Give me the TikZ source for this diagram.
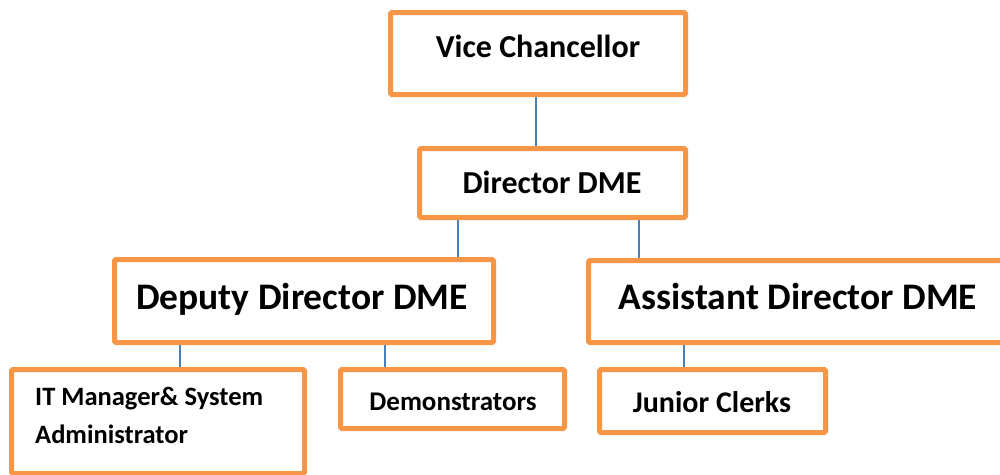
\documentclass[tikz,border=0pt]{standalone}
\usepackage{fontspec}
\setmainfont{Carlito}
\usetikzlibrary{backgrounds}
\definecolor{boxorange}{HTML}{F79646}
\definecolor{linkblue}{HTML}{4A7EBB}
\tikzset{
  orgbox/.style={draw=boxorange, line width=5pt, fill=white, rounded corners=1.5pt,
    inner sep=0pt, minimum width=#1},
  boxtext/.style={anchor=base, inner sep=0pt, font=\bfseries\fontsize{#1}{#1}\selectfont},
  link/.style={draw=linkblue, line width=1.4pt}
}
\begin{document}
\begin{tikzpicture}[x=1pt,y=-1pt]
\useasboundingbox (0,0) rectangle (1000,474);
\clip (0,0) rectangle (1000,474);

% boxes
\node[orgbox=295pt, minimum height=82pt] (vc)   at (538,53.5)  {};
\node[orgbox=266pt, minimum height=69pt] (dir)  at (552.5,183) {};
\node[orgbox=379pt, minimum height=83pt] (dep)  at (304,301)   {};
\node[orgbox=419pt, minimum height=82pt] (asst) at (798,301.5) {};
\node[orgbox=293pt, minimum height=104pt] (it)  at (158,421.5) {};
\node[orgbox=224pt, minimum height=59pt] (dem)  at (452.5,399) {};
\node[orgbox=226pt, minimum height=63pt] (jc)   at (712.5,401) {};

% labels
\node[boxtext=32pt] (vct)   at (538,57)      {Vice Chancellor};
\node[boxtext=32pt] (dirt)  at (552,193.5)   {Director DME};
\node[boxtext=37.5pt] (dept)  at (302,309.5) {Deputy Director DME};
\node[boxtext=37.5pt] (asstt) at (798,309.5) {Assistant Director DME};
\node[boxtext=26.5pt, anchor=base west] (itt1) at (35,405.5) {IT Manager\& System};
\node[boxtext=26.5pt, anchor=base west] (itt2) at (35,443.5) {Administrator};
\node[boxtext=27pt] (demt)  at (453,410.5)   {Demonstrators};
\node[boxtext=30pt] (jct)   at (712,412)     {Junior Clerks};

% reporting lines
\begin{pgfonlayer}{background}
\draw[link] ([xshift=-2pt]vc.south) -- ([xshift=-2pt]vc.south |- dir.north);
\draw[link] ([xshift=-94.5pt]dir.south) -- ([xshift=-94.5pt]dir.south |- dep.north);
\draw[link] ([xshift=86.5pt]dir.south) -- ([xshift=86.5pt]dir.south |- asst.north);
\draw[link] ([xshift=-124pt]dep.south) -- ([xshift=-124pt]dep.south |- it.north);
\draw[link] ([xshift=81pt]dep.south) -- ([xshift=81pt]dep.south |- dem.north);
\draw[link] ([xshift=-114pt]asst.south) -- ([xshift=-114pt]asst.south |- jc.north);
\end{pgfonlayer}
\end{tikzpicture}
\end{document}
